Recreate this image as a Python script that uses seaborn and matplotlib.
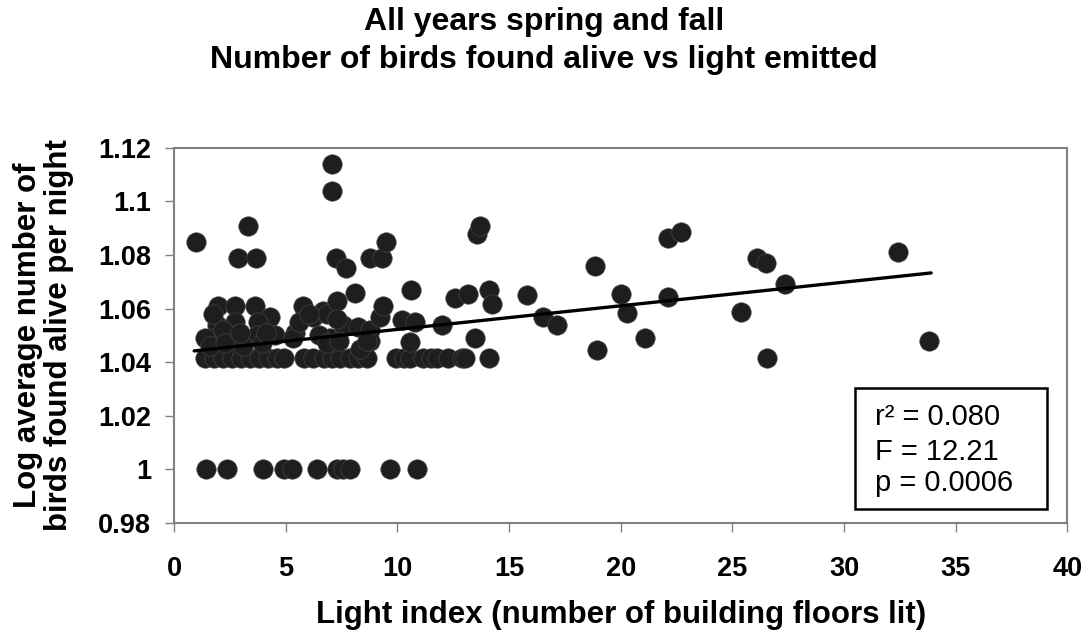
import numpy as np
import pandas as pd
import seaborn as sns
import matplotlib
matplotlib.use("Agg")
import matplotlib.pyplot as plt
from matplotlib.patches import Rectangle

# nights with log value 1.0 (bottom row)
zero_row_x = [1.42, 2.36, 3.97, 4.90, 5.27, 6.39, 7.28, 7.58, 7.88, 9.67, 10.87]
zero_row_y = 1.0

# nights with log value ~1.0414 (the dense row)
base_row_x = [1.39, 1.80, 2.20, 2.60, 3.00, 3.40, 3.80, 4.20, 4.60, 4.93, 5.82, 6.22,
              6.70, 7.08, 7.43, 7.88, 8.25, 8.64, 9.94, 10.30, 10.57, 11.15, 11.50,
              11.78, 12.27, 12.90, 13.03, 14.08, 26.57]
base_row_y = 1.0414

# everything else
other_x = [0.99, 3.31, 2.87, 3.69, 7.06, 7.06, 7.24, 7.70, 8.78, 9.30, 9.49, 13.55, 13.70,
           1.98, 2.73, 3.63, 4.30, 1.91, 2.75, 3.75, 1.69, 2.45, 3.70, 1.39, 2.20,
           1.60, 2.30, 3.10, 3.95, 4.50, 2.95, 1.75, 4.10,
           5.42, 5.79, 6.20, 6.69, 6.84, 6.99, 7.28, 7.58, 8.10, 8.25, 8.78, 8.33, 8.78,
           9.22, 9.37, 6.50, 7.30, 5.33, 6.85, 7.40, 8.64, 5.60, 6.05,
           10.20, 10.80, 11.99, 10.57, 10.60, 12.58, 13.18, 13.48, 14.12, 14.22,
           15.80, 16.54, 17.14, 18.85, 18.93, 20.00, 20.27, 21.10, 22.14, 22.70, 22.14,
           25.38, 26.10, 26.50, 27.36, 32.40, 33.82]
other_y = [1.085, 1.091, 1.079, 1.079, 1.114, 1.104, 1.079, 1.075, 1.079, 1.079, 1.085, 1.088, 1.091,
           1.061, 1.061, 1.061, 1.057, 1.054, 1.055, 1.055, 1.049, 1.049, 1.050, 1.049, 1.052,
           1.046, 1.047, 1.046, 1.047, 1.050, 1.051, 1.058, 1.051,
           1.051, 1.061, 1.057, 1.059, 1.058, 1.049, 1.063, 1.054, 1.066, 1.053, 1.052, 1.045, 1.048,
           1.057, 1.061, 1.050, 1.056, 1.049, 1.047, 1.048, 1.048, 1.055, 1.058,
           1.0556, 1.055, 1.054, 1.0475, 1.067, 1.064, 1.0656, 1.049, 1.067, 1.0616,
           1.065, 1.057, 1.054, 1.076, 1.0445, 1.0656, 1.0585, 1.049, 1.0865, 1.0886, 1.0643,
           1.0587, 1.079, 1.077, 1.069, 1.081, 1.048]

# regression line as drawn in the figure
fit_x = [0.9, 33.9]
fit_y = [1.0442, 1.0733]

stats_lines = ["r\u00b2 = 0.080", "F = 12.21", "p = 0.0006"]

x_ticks = [0, 5, 10, 15, 20, 25, 30, 35, 40]
y_ticks = [0.98, 1.0, 1.02, 1.04, 1.06, 1.08, 1.10, 1.12]
y_tick_labels = ["0.98", "1", "1.02", "1.04", "1.06", "1.08", "1.1", "1.12"]

df = pd.DataFrame({
    "light": zero_row_x + base_row_x + other_x,
    "alive": [zero_row_y] * len(zero_row_x) + [base_row_y] * len(base_row_x) + other_y,
})
fit_df = pd.DataFrame({"light": fit_x, "alive": fit_y})

sns.set_theme(style="white")
plt.rcParams["font.family"] = ["Liberation Sans", "DejaVu Sans"]
plt.rcParams["text.color"] = "black"
plt.rcParams["axes.labelcolor"] = "black"

fig, ax = plt.subplots(figsize=(10.88, 6.37), dpi=100)
fig.subplots_adjust(left=0.160, right=0.981, bottom=0.179, top=0.768)

sns.scatterplot(data=df, x="light", y="alive", s=195, color="#1e1e1e",
                edgecolor="#444444", linewidth=0.5, ax=ax, zorder=3)
sns.lineplot(data=fit_df, x="light", y="alive", color="black", linewidth=2.4, ax=ax, zorder=4)

ax.set_xlim(0, 40)
ax.set_ylim(0.98, 1.12)
ax.set_xticks(x_ticks)
ax.set_xticklabels([str(t) for t in x_ticks])
ax.set_yticks(y_ticks)
ax.set_yticklabels(y_tick_labels)
ax.tick_params(axis="both", direction="out", length=6.5, width=1, color="#808080",
               labelsize=19.5, labelcolor="black", left=True, bottom=True)
ax.tick_params(axis="x", pad=17)
ax.tick_params(axis="y", pad=10)
for lab in ax.get_xticklabels() + ax.get_yticklabels():
    lab.set_fontweight("bold")
for sp in ax.spines.values():
    sp.set_color("#808080")
    sp.set_linewidth(1.5)
    sp.set_linestyle((0, (1, 1)))

ax.set_xlabel("Light index (number of building floors lit)", fontsize=22.5,
              fontweight="bold", color="black")
ax.set_ylabel("Log average number of\nbirds found alive per night", fontsize=22.5,
              fontweight="bold", linespacing=1.05, color="black")
ax.xaxis.set_label_coords(0.5, -0.205)
ax.yaxis.set_label_coords(-0.112, 0.5)

fig.text(0.5, 1 - 22 / 637, "All years spring and fall", ha="center", va="center",
         fontsize=23, fontweight="bold", color="black")
fig.text(0.5, 1 - 60 / 637, "Number of birds found alive vs light emitted", ha="center",
         va="center", fontsize=23, fontweight="bold", color="black")

ax.add_patch(Rectangle((0.7626, 0.0373), 0.215, 0.3227, transform=ax.transAxes,
                       facecolor="white", edgecolor="black", linewidth=1.8, zorder=5))
for line, yy in zip(stats_lines, [0.283, 0.189, 0.107]):
    ax.text(0.785, yy, line, transform=ax.transAxes, fontsize=21, ha="left",
            va="center", color="black", zorder=6)

fig.savefig("out.png", dpi=100)
plt.close(fig)
